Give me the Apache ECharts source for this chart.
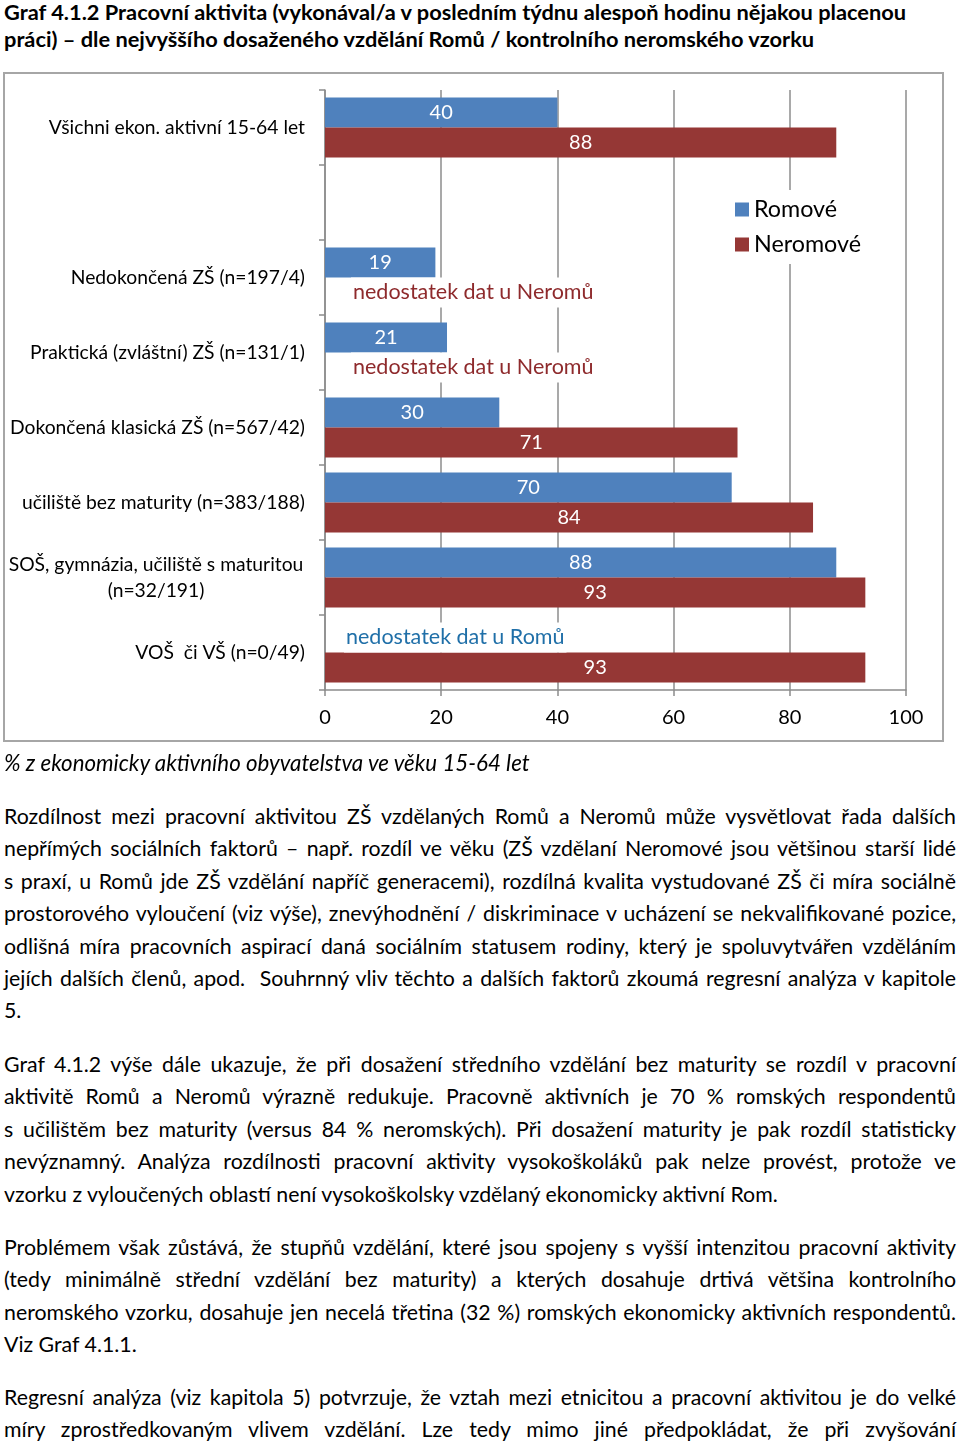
<!DOCTYPE html>
<html lang="cs">
<head>
<meta charset="utf-8">
<script src="https://cdn.jsdelivr.net/npm/echarts@6/dist/echarts.min.js"></script>
<style>
  html, body { margin: 0; padding: 0; background: #fff; }
  body { width: 960px; height: 1444px; position: relative; overflow: hidden; font-family: Lato, "Noto Sans", sans-serif; color: #000; }
  .title { position: absolute; left: 4px; top: -2px; width: 952px; font-weight: bold; font-size: 21.8px; line-height: 27px; white-space: nowrap; }
  #chart { position: absolute; left: 0; top: 60px; width: 960px; height: 740px; }
  .caption { position: absolute; left: 4px; top: 747px; font-style: italic; font-size: 22.3px; line-height: 32px; white-space: nowrap; }
  .para { position: absolute; left: 4px; width: 952px; font-size: 21.3px; }
  .para .l { height: 32.4px; line-height: 32.4px; white-space: nowrap; text-align: justify; text-align-last: justify; }
  .para .l.last { text-align-last: left; }
</style>
</head>
<body>
<div class="title">
  <div>Graf 4.1.2 Pracovní aktivita (vykonával/a v posledním týdnu alespoň hodinu nějakou placenou</div>
  <div>práci) – dle nejvyššího dosaženého vzdělání Romů / kontrolního neromského vzorku</div>
</div>
<div id="chart"></div>
<div class="caption">% z ekonomicky aktivního obyvatelstva ve věku 15-64 let</div>

<div class="para" style="top:800px">
  <div class="l">Rozdílnost mezi pracovní aktivitou ZŠ vzdělaných Romů a Neromů může vysvětlovat řada dalších</div>
  <div class="l">nepřímých sociálních faktorů – např. rozdíl ve věku (ZŠ vzdělaní Neromové jsou většinou starší lidé</div>
  <div class="l">s praxí, u Romů jde ZŠ vzdělání napříč generacemi), rozdílná kvalita vystudované ZŠ či míra sociálně</div>
  <div class="l">prostorového vyloučení (viz výše), znevýhodnění / diskriminace v ucházení se nekvalifikované pozice,</div>
  <div class="l">odlišná míra pracovních aspirací daná sociálním statusem rodiny, který je spoluvytvářen vzděláním</div>
  <div class="l">jejích dalších členů, apod.&nbsp; Souhrnný vliv těchto a dalších faktorů zkoumá regresní analýza v kapitole</div>
  <div class="l last">5.</div>
</div>

<div class="para" style="top:1048px">
  <div class="l">Graf 4.1.2 výše dále ukazuje, že při dosažení středního vzdělání bez maturity se rozdíl v pracovní</div>
  <div class="l">aktivitě Romů a Neromů výrazně redukuje. Pracovně aktivních je 70 % romských respondentů</div>
  <div class="l">s učilištěm bez maturity (versus 84 % neromských). Při dosažení maturity je pak rozdíl statisticky</div>
  <div class="l">nevýznamný. Analýza rozdílnosti pracovní aktivity vysokoškoláků pak nelze provést, protože ve</div>
  <div class="l last">vzorku z vyloučených oblastí není vysokoškolsky vzdělaný ekonomicky aktivní Rom.</div>
</div>

<div class="para" style="top:1231px">
  <div class="l">Problémem však zůstává, že stupňů vzdělání, které jsou spojeny s vyšší intenzitou pracovní aktivity</div>
  <div class="l">(tedy minimálně střední vzdělání bez maturity) a kterých dosahuje drtivá většina kontrolního</div>
  <div class="l">neromského vzorku, dosahuje jen necelá třetina (32 %) romských ekonomicky aktivních respondentů.</div>
  <div class="l last">Viz Graf 4.1.1.</div>
</div>

<div class="para" style="top:1381px">
  <div class="l">Regresní analýza (viz kapitola 5) potvrzuje, že vztah mezi etnicitou a pracovní aktivitou je do velké</div>
  <div class="l">míry zprostředkovaným vlivem vzdělání. Lze tedy mimo jiné předpokládat, že při zvyšování</div>
</div>

<script>
// ---- data ----
const categories = [
  'Všichni ekon. aktivní 15-64 let',
  '',
  'Nedokončená ZŠ (n=197/4)',
  'Praktická (zvláštní) ZŠ (n=131/1)',
  'Dokončená klasická ZŠ (n=567/42)',
  'učiliště bez maturity (n=383/188)',
  'SOŠ, gymnázia, učiliště s maturitou\n(n=32/191)',
  'VOŠ  či VŠ (n=0/49)'
];
const seriesNames = ['Romové', 'Neromové'];
const romove   = [40, null, 19, 21, 30, 70, 88, null];
const neromove = [88, null, null, null, 71, 84, 93, 93];
const romoveNotes   = [null, null, null, null, null, null, null, 'nedostatek dat u Romů'];
const neromoveNotes = [null, null, 'nedostatek dat u Neromů', 'nedostatek dat u Neromů', null, null, null, null];
const xTicks = [0, 20, 40, 60, 80, 100];

const FONT = 'Lato, "Noto Sans", sans-serif';
const BLUE = '#4f81bd';
const RED = '#953735';

function build(values, notes, noteColor, noteDist) {
  return values.map((v, i) => {
    if (v === null && notes[i]) {
      return { value: 0, label: {
        show: true, position: 'right', distance: noteDist - 2, formatter: notes[i],
        color: noteColor, fontSize: 21.5, fontFamily: FONT,
        backgroundColor: '#fff', padding: [3, 2, 3, 2], lineHeight: 24
      } };
    }
    return v;
  });
}

const chart = echarts.init(document.getElementById('chart'), null, { renderer: 'canvas' });
chart.setOption({
  animation: false,
  textStyle: { fontFamily: FONT },
  graphic: [{
    type: 'rect', shape: { x: 4, y: 13, width: 939, height: 668 },
    style: { fill: 'none', stroke: '#a6a6a6', lineWidth: 2 }, z: 0
  }],
  grid: { left: 325, right: 54, top: 30, bottom: 110, containLabel: false },
  legend: {
    orient: 'vertical', left: 729, top: 130, padding: [8, 10, 8, 6],
    backgroundColor: '#fff', itemWidth: 14, itemHeight: 14, itemGap: 12,
    icon: 'rect',
    textStyle: { fontSize: 23.3, color: '#000', fontFamily: FONT },
    data: seriesNames
  },
  xAxis: {
    type: 'value', min: xTicks[0], max: xTicks[xTicks.length - 1], interval: 20,
    axisLine: { show: true, lineStyle: { color: '#8c8c8c', width: 1.5 } },
    axisTick: { show: true, length: 6, lineStyle: { color: '#8c8c8c', width: 1.5 } },
    axisLabel: { fontSize: 20, color: '#000', margin: 18, fontFamily: FONT },
    splitLine: { show: true, lineStyle: { color: '#8c8c8c', width: 1.5 } }
  },
  yAxis: {
    type: 'category', inverse: true, data: categories,
    axisLine: { show: true, lineStyle: { color: '#8c8c8c', width: 1.5 } },
    axisTick: { show: true, length: 6, alignWithLabel: false, lineStyle: { color: '#8c8c8c', width: 1.5 } },
    axisLabel: {
      fontSize: 19.3, color: '#000', margin: 20, fontFamily: FONT, lineHeight: 26,
      formatter: function (val) {
        if (val.indexOf('\n') >= 0) {
          return val.split('\n').map(s => '{c|' + s + '}').join('\n');
        }
        return val;
      },
      rich: { c: { width: 298, align: 'center', fontSize: 19.3, lineHeight: 26, color: '#000', fontFamily: FONT } }
    }
  },
  series: [
    {
      name: seriesNames[0], type: 'bar', barWidth: 30, barGap: '0%',
      itemStyle: { color: BLUE },
      label: { show: true, position: 'inside', color: '#fff', fontSize: 20, fontFamily: FONT },
      data: build(romove, romoveNotes, '#1f6fa8', 21)
    },
    {
      name: seriesNames[1], type: 'bar', barWidth: 30, barGap: '0%',
      itemStyle: { color: RED },
      label: { show: true, position: 'inside', color: '#fff', fontSize: 20, fontFamily: FONT },
      data: build(neromove, neromoveNotes, '#8e2a2c', 28)
    }
  ]
});
</script>
</body>
</html>
